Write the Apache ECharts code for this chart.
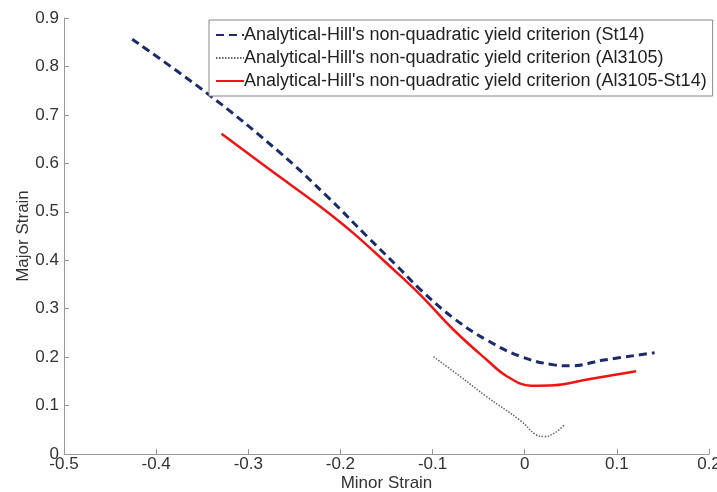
<!DOCTYPE html>
<html>
<head>
<meta charset="utf-8">
<script src="https://cdn.jsdelivr.net/npm/echarts@6/dist/echarts.min.js"></script>
<style>
  html, body { margin: 0; padding: 0; background: #fff; }
  #chart { width: 717px; height: 492px; }
</style>
</head>
<body>
<div id="chart"></div>
<script>
var namesList = [
  "Analytical-Hill's non-quadratic yield criterion (St14)",
  "Analytical-Hill's non-quadratic yield criterion (Al3105)",
  "Analytical-Hill's non-quadratic yield criterion (Al3105-St14)"
];
// [minor strain, major strain]
var st14 = [
  [-0.426, 0.856], [-0.345, 0.745], [-0.265, 0.621], [-0.214, 0.531],
  [-0.171, 0.449], [-0.138, 0.387], [-0.113, 0.339], [-0.077, 0.280],
  [-0.041, 0.235], [-0.004, 0.201], [0.032, 0.184], [0.050, 0.182],
  [0.086, 0.194], [0.141, 0.209]
];
var al3105 = [
  [-0.099, 0.201], [-0.070, 0.160], [-0.041, 0.118], [-0.004, 0.068],
  [0.012, 0.040], [0.022, 0.036], [0.033, 0.044], [0.043, 0.060]
];
var al3105St14 = [
  [-0.329, 0.661], [-0.276, 0.586], [-0.222, 0.511], [-0.186, 0.456],
  [-0.146, 0.387], [-0.113, 0.328], [-0.077, 0.256], [-0.041, 0.194],
  [-0.019, 0.160], [0.007, 0.141], [0.032, 0.142], [0.068, 0.154],
  [0.121, 0.171]
];

var font = 'Liberation Sans, Arial, sans-serif';
var fmt = function (v) { return String(+v.toFixed(1)); };

var chart = echarts.init(document.getElementById('chart'));
chart.setOption({
  animation: false,
  grid: { left: 64, right: 8, top: 18, bottom: 38, outerBoundsMode: 'none', containLabel: false },
  legend: {
    orient: 'vertical',
    left: 209,
    top: 20,
    padding: [6, 6, 6, 6],
    itemWidth: 28,
    itemHeight: 14,
    itemGap: 5,
    borderColor: '#888',
    borderWidth: 1,
    backgroundColor: '#fff',
    itemStyle: { opacity: 0 },
    textStyle: { fontFamily: font, fontSize: 18, color: '#222', padding: [0, 0, 0, -5] },
    data: namesList
  },
  xAxis: {
    type: 'value',
    min: -0.5, max: 0.2, interval: 0.1,
    name: 'Minor Strain',
    nameLocation: 'middle',
    nameGap: 21,
    nameMoveOverlap: false,
    nameTextStyle: { fontFamily: font, fontSize: 17, color: '#333' },
    axisLine: { onZero: false, lineStyle: { color: '#999' } },
    axisTick: { inside: true, length: 5, lineStyle: { color: '#999' } },
    axisLabel: { formatter: fmt, margin: 2, fontFamily: font, fontSize: 17, color: '#333' },
    splitLine: { show: false }
  },
  yAxis: {
    type: 'value',
    min: 0, max: 0.9, interval: 0.1,
    name: 'Major Strain',
    nameLocation: 'middle',
    nameGap: 32,
    nameMoveOverlap: false,
    nameTextStyle: { fontFamily: font, fontSize: 17, color: '#333' },
    axisLine: { show: true, onZero: false, lineStyle: { color: '#999' } },
    axisTick: { show: true, inside: true, length: 5, lineStyle: { color: '#999' } },
    axisLabel: { formatter: fmt, margin: 5, fontFamily: font, fontSize: 17, color: '#333' },
    splitLine: { show: false }
  },
  series: [
    {
      name: namesList[0], type: 'line', data: st14, smooth: 0.4, symbol: 'none',
      lineStyle: { color: '#1c2b6b', width: 3, type: [8, 5] },
      itemStyle: { color: '#1c2b6b' }
    },
    {
      name: namesList[1], type: 'line', data: al3105, smooth: 0.4, symbol: 'none',
      lineStyle: { color: '#666', width: 1.5, type: [1.5, 1.5] },
      itemStyle: { color: '#666' }
    },
    {
      name: namesList[2], type: 'line', data: al3105St14, smooth: 0.4, symbol: 'none',
      lineStyle: { color: '#f01414', width: 2.5, type: 'solid' },
      itemStyle: { color: '#f01414' }
    }
  ]
});
</script>
</body>
</html>
